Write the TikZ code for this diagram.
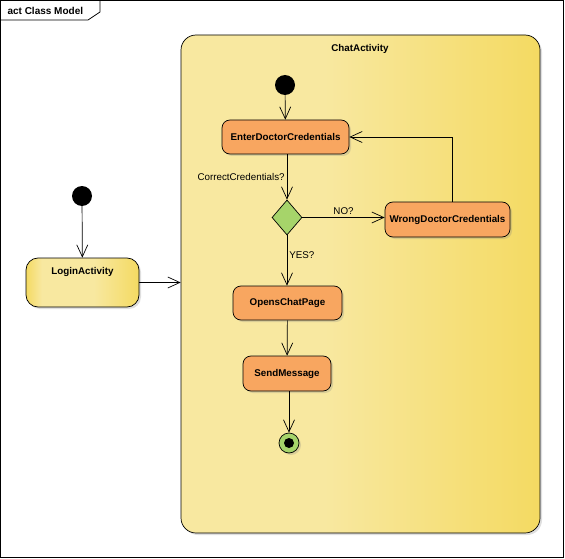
\documentclass[tikz,border=0pt]{standalone}
\usepackage{fontspec}
\setmainfont{Liberation Sans}
\usetikzlibrary{arrows.meta,shadows,shapes.geometric}
\definecolor{frameyel}{HTML}{F8E8A0}
\definecolor{frameyeldark}{HTML}{F4DA62}
\definecolor{actorange}{HTML}{F8A660}
\definecolor{actlight}{HTML}{FCCBA0}
\definecolor{decgreen}{HTML}{A6D46A}
\pgfdeclarehorizontalshading{chatshade}{100bp}{color(0bp)=(frameyel); color(25bp)=(frameyel);
  color(45bp)=(frameyel); color(75bp)=(frameyeldark); color(100bp)=(frameyeldark)}
\pgfdeclarehorizontalshading{loginshade}{100bp}{color(0bp)=(frameyeldark); color(25bp)=(frameyeldark);
  color(32bp)=(frameyel); color(55bp)=(frameyel); color(75bp)=(frameyeldark); color(100bp)=(frameyeldark)}
\tikzset{
  >={Straight Barb[length=12pt,width=11pt]},
  flow/.style={->,line width=0.7pt},
  shade/.style={drop shadow={opacity=0.25,shadow xshift=2pt,shadow yshift=-2pt}},
  actbox/.style={draw,line width=0.7pt,rounded corners=8pt,left color=actorange,middle color=actlight,right color=actorange,
    font=\bfseries\fontsize{9.8}{11}\selectfont,inner sep=0pt,shade},
  startdot/.style={circle,fill=black,minimum size=20pt,inner sep=0pt},
  guard/.style={font=\fontsize{9.8}{11}\selectfont,inner sep=2pt}
}
\begin{document}
\begin{tikzpicture}[x=1pt,y=-1pt]
\useasboundingbox (0,0) rectangle (565,559);
% frame
\draw[line width=0.8pt] (0.5,0.5) rectangle (563.5,557.5);
\draw[line width=0.8pt] (0.5,20) -- (88,20) -- (100,12) -- (100,0.5);
\node[font=\bfseries\fontsize{10}{11}\selectfont,anchor=west] (title) at (4,10.5) {act Class Model};
% left part
\node[startdot] (start1) at (82,196) {};
\node[draw,line width=0.7pt,rounded corners=12pt,minimum width=113pt,minimum height=49pt,
  shading=loginshade,shade] (login) at (82.5,282.5) {};
\node[font=\bfseries\fontsize{9.8}{11}\selectfont] (loginlbl) at (82.5,272) {LoginActivity};
% ChatActivity
\node[draw,line width=0.7pt,rounded corners=15pt,minimum width=359pt,minimum height=498pt,
  shading=chatshade,shade] (chat) at (360.5,284) {};
\node[font=\bfseries\fontsize{9.8}{11}\selectfont] (chatlbl) at (360,49) {ChatActivity};
\node[startdot] (start2) at (285,85) {};
\node[actbox,minimum width=127pt,minimum height=34pt] (enter) at (285.5,137) {EnterDoctorCredentials};
\node[draw,line width=0.7pt,diamond,fill=decgreen,minimum width=30pt,minimum height=35pt,inner sep=0pt,
  shape aspect=0.85] (dec) at (287,217.5) {};
\node[actbox,minimum width=125pt,minimum height=35pt] (wrong) at (447.5,219.5) {WrongDoctorCredentials};
\node[actbox,minimum width=109pt,minimum height=34pt] (opens) at (287.5,303) {OpensChatPage};
\node[actbox,minimum width=88pt,minimum height=35pt] (send) at (287,373.5) {SendMessage};
\node[draw,line width=0.7pt,circle,fill=decgreen,minimum size=20pt,inner sep=0pt,shade] (final) at (289,443) {};
\node[circle,fill=black,minimum size=10pt,inner sep=0pt] (finaldot) at (final) {};
\coordinate (corner) at (452,137);
% flows
\draw[flow] (start1) -- (login);
\draw[flow] (login.east) -- (login.east -| chat.west);
\draw[flow] (start2) -- (enter);
\draw[flow] (enter.south -| dec) -- (dec) node[guard,midway,left] {CorrectCredentials?};
\draw[flow] (dec.east) -- (dec.east -| wrong.west) node[guard,midway,above,yshift=1pt] {NO?};
\draw[flow] (dec.south) -- (opens.north -| dec) node[guard,pos=0.4,right] {YES?};
\draw[flow] (wrong.north -| corner) -- (corner) -- (enter.east);
\draw[flow] (opens) -- (send);
\draw[flow] (send.south -| final) -- (final);
\end{tikzpicture}
\end{document}
